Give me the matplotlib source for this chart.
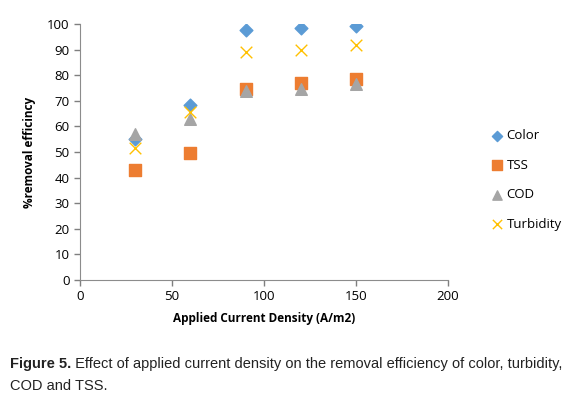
import matplotlib.pyplot as plt

density = [30, 60, 90, 120, 150]
color_eff = [55, 68.2, 97.8, 98.3, 99.1]
tss_eff = [43, 49.8, 74.8, 76.9, 78.7]
cod_eff = [57, 62.8, 73.8, 74.6, 76.4]
turb_eff = [51.5, 65.8, 89, 89.8, 91.8]

caption_bold = 'Figure 5.'
caption_line1 = ' Effect of applied current density on the removal efficiency of color, turbidity,'
caption_line2 = 'COD and TSS.'

plt.rcParams['font.family'] = ['Open Sans', 'DejaVu Sans']

fig = plt.figure(figsize=(5.78, 3.97), dpi=100)
ax = fig.add_axes([80 / 578, 1 - 280 / 397, 368 / 578, 256 / 397])

ax.scatter(density, color_eff, marker='D', s=42, color='#5b9bd5', label='Color', zorder=3)
ax.scatter(density, tss_eff, marker='s', s=70, color='#ed7d31', label='TSS', zorder=3)
ax.scatter(density, cod_eff, marker='^', s=70, color='#a5a5a5', label='COD', zorder=3)
ax.scatter(density, turb_eff, marker='x', s=70, color='#ffc000', linewidths=1, label='Turbidity', zorder=4)

ax.set_xlim(0, 200)
ax.set_ylim(0, 100)
ax.set_xticks(range(0, 201, 50))
ax.set_yticks(range(0, 101, 10))
ax.tick_params(labelsize=9.5, colors='#7f7f7f', labelcolor='black', length=4, width=1)
for side in ['top', 'right']:
    ax.spines[side].set_visible(False)
for side in ['left', 'bottom']:
    ax.spines[side].set_color('#8c8c8c')

ax.set_xlabel('Applied Current Density (A/m2)', fontsize=8.5, fontweight='bold', labelpad=6)
ax.set_ylabel('%removal efficincy', fontsize=8.5, fontweight='bold', labelpad=8)

ax.legend(loc='center left', bbox_to_anchor=(1.08, 0.39), frameon=False, fontsize=9.5,
          handletextpad=0.1, labelspacing=1.25, handlelength=1.2, scatterpoints=1,
          markerscale=0.8)

# caption: bold lead-in, then the rest, sized to fill the width
cap_font = ['Liberation Sans', 'DejaVu Sans']
size = 10
renderer = fig.canvas.get_renderer()
for _ in range(3):
    t1 = fig.text(10 / 578, 1 - 368 / 397, caption_bold, fontsize=size, fontweight='bold',
                  family=cap_font, color='#222222')
    w1 = t1.get_window_extent(renderer).width
    t2 = fig.text((10 + w1) / 578, 1 - 368 / 397, caption_line1, fontsize=size,
                  family=cap_font, color='#222222')
    w2 = t2.get_window_extent(renderer).width
    total = w1 + w2
    if abs(total - 553) < 4:
        break
    t1.remove()
    t2.remove()
    size = size * 553 / total
fig.text(10 / 578, 1 - 390 / 397, caption_line2, fontsize=size, family=cap_font, color='#222222')

fig.savefig('out.png', dpi=100)
